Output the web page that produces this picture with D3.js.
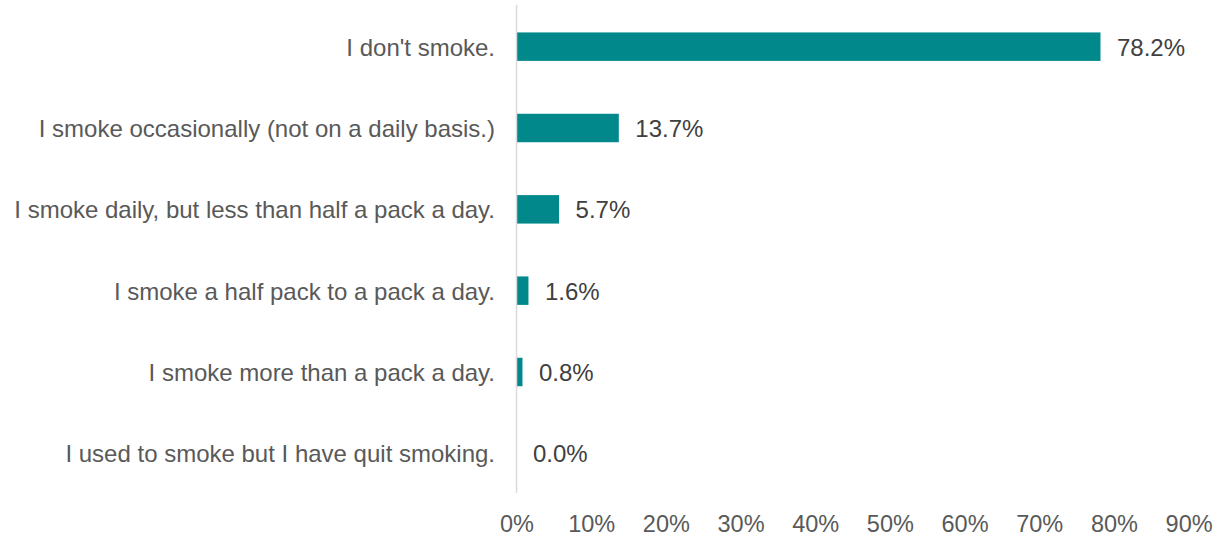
<!DOCTYPE html>
<html>
<head>
<meta charset="utf-8">
<script src="https://cdn.jsdelivr.net/npm/d3@7"></script>
<style>
  html, body { margin: 0; padding: 0; background: #fff; }
  svg { display: block; }
  text { font-family: "Liberation Sans", Arial, sans-serif; }
</style>
</head>
<body>
<svg id="chart" width="1220" height="537"></svg>
<script>
// Smoking habits survey: share of respondents per answer
const categories = [
  "I don't smoke.",
  "I smoke occasionally (not on a daily basis.)",
  "I smoke daily, but less than half a pack a day.",
  "I smoke a half pack to a pack a day.",
  "I smoke more than a pack a day.",
  "I used to smoke but I have quit smoking."
];
const values = [78.2, 13.7, 5.7, 1.6, 0.8, 0.0];
const tickValues = [0, 10, 20, 30, 40, 50, 60, 70, 80, 90];

const svg = d3.select("#chart");
const plotLeft = 516.5, plotRight = 1188.6, plotTop = 6, plotBottom = 494;

const x = d3.scaleLinear().domain([0, 90]).range([plotLeft, plotRight]);
const y = d3.scaleBand().domain(categories).range([plotTop, plotBottom]).paddingInner(0.65).paddingOuter(0.325);

// bars
svg.append("g").selectAll("rect")
  .data(values)
  .join("rect")
  .attr("x", x(0))
  .attr("y", (d, i) => y(categories[i]))
  .attr("width", d => x(d) - x(0))
  .attr("height", y.bandwidth())
  .attr("fill", "#00888b");

// vertical baseline
svg.append("line")
  .attr("x1", x(0)).attr("x2", x(0))
  .attr("y1", 5).attr("y2", 493)
  .attr("stroke", "#d9d9d9").attr("stroke-width", 1.5);

// category labels
svg.append("g").selectAll("text")
  .data(categories)
  .join("text")
  .attr("x", 495)
  .attr("y", d => y(d) + y.bandwidth() / 2)
  .attr("dy", "0.375em")
  .attr("text-anchor", "end")
  .attr("font-size", 24)
  .attr("fill", "#595959")
  .text(d => d);

// value labels
svg.append("g").selectAll("text")
  .data(values)
  .join("text")
  .attr("x", d => x(d) + 16.5)
  .attr("y", (d, i) => y(categories[i]) + y.bandwidth() / 2)
  .attr("dy", "0.375em")
  .attr("font-size", 24)
  .attr("fill", "#404040")
  .text(d => d.toFixed(1) + "%");

// x axis tick labels
const axis = d3.axisBottom(x)
  .tickValues(tickValues)
  .tickSize(0)
  .tickPadding(0)
  .tickFormat(d => d + "%");
const gx = svg.append("g").attr("transform", `translate(0, 515)`).call(axis);
gx.select(".domain").remove();
gx.selectAll("text")
  .attr("dy", "0.71em")
  .attr("font-size", 23.5)
  .attr("font-family", "\"Liberation Sans\", Arial, sans-serif")
  .attr("fill", "#595959");
</script>
</body>
</html>
